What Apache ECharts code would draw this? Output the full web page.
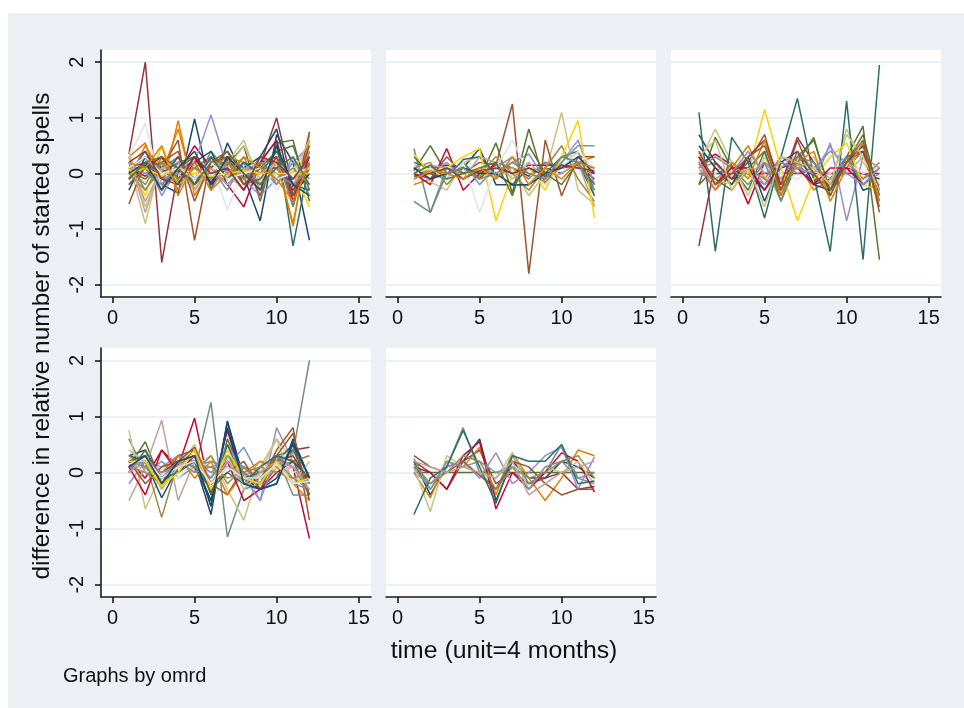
<!DOCTYPE html>
<html>
<head>
<meta charset="utf-8">
<script src="https://cdn.jsdelivr.net/npm/echarts@6/dist/echarts.min.js"></script>
<style>
  html, body { margin: 0; padding: 0; background: #ffffff; }
  #wrap { position: relative; width: 964px; height: 708px; overflow: hidden; }
  #bg { position: absolute; left: 8px; top: 13px; right: 0; bottom: 0; background: #ecf0f5; }
  #chart { position: absolute; left: 0; top: 0; width: 964px; height: 708px; }
</style>
</head>
<body>
<div id="wrap"><div id="bg"></div><div id="chart"></div></div>
<script>
// ---- data ----
const time = [1, 2, 3, 4, 5, 6, 7, 8, 9, 10, 11, 12];
const xTicks = [0, 5, 10, 15];
const yTicks = [-2, -1, 0, 1, 2];

const omrd1 = [
  [-0.1, 0.15, -0.2, -0.35, 0.98, -0.3, 0.55, -0.05, -0.85, 0.7, 0.2, -1.2],
  [0.35, 2.0, -1.6, 0.05, 0.1, -0.15, 0.25, -0.1, 0.15, 1.0, -0.25, 0.2],
  [0.05, -0.1, 0.2, -0.15, 0.1, 0.3, 0.15, 0.5, -0.5, 0.55, 0.6, -0.5],
  [0.3, 0.55, -0.3, 0.95, -0.4, 0.1, 0.3, 0.2, -0.2, 0.3, -0.95, 0.7],
  [0.2, -0.3, 0.1, 0.3, -0.2, 0.4, 0.05, -0.1, 0.3, -0.2, 0.2, -0.1],
  [0.1, -0.05, 0.2, 0.0, 0.5, 0.1, -0.2, -0.6, 0.2, 0.3, -0.4, 0.1],
  [0.05, 0.3, -0.4, 0.1, 0.2, 1.05, 0.1, -0.1, -0.4, -0.1, 0.2, 0.5],
  [0.2, -0.9, 0.3, -0.1, 0.1, -0.2, 0.2, 0.6, -0.2, 0.1, -0.3, 0.7],
  [-0.55, 0.2, 0.1, 0.6, -1.2, 0.3, -0.1, 0.2, -0.4, 0.5, -0.6, 0.75],
  [-0.2, 0.2, 0.0, 0.3, -0.1, 0.1, -0.3, 0.2, 0.1, -0.2, 0.3, -0.4],
  [0.0, 0.4, -0.2, 0.1, 0.3, -0.2, 0.3, 0.1, 0.2, 0.6, -1.3, 0.2],
  [0.1, -0.2, 0.3, -0.3, 0.2, 0.1, -0.1, 0.3, -0.3, 0.2, -0.1, 0.0],
  [0.3, -0.7, 0.2, 0.1, -0.2, 0.3, 0.0, -0.3, 0.3, 0.1, -0.2, 0.3],
  [0.1, -0.4, 0.5, -0.2, 0.0, 0.2, -0.1, 0.05, 0.0, 0.0, 0.05, -0.6],
  [0.3, 0.9, -0.3, 0.2, -0.1, 0.2, -0.65, 0.1, 0.2, -0.3, 0.1, 0.2],
  [-0.3, 0.3, 0.1, -0.2, 0.2, 0.4, -0.2, 0.1, 0.3, 0.8, -0.4, 0.0],
  [0.1, 0.2, -0.1, 0.3, -0.2, 0.1, 0.4, -0.2, 0.1, 0.1, -0.3, 0.1],
  [0.2, 0.1, -0.3, 0.2, 0.3, -0.1, 0.2, -0.2, 0.1, 0.4, 0.5, -0.3],
  [-0.1, 0.5, 0.0, 0.8, -0.3, 0.2, 0.4, -0.1, 0.0, 0.2, -0.9, 0.6],
  [0.15, 0.0, 0.2, -0.2, 0.1, -0.1, 0.2, 0.1, -0.2, 0.3, -0.6, 0.4],
  [0.0, 0.1, 0.3, -0.1, 0.3, -0.2, 0.1, -0.3, 0.2, 0.6, -0.5, 0.3],
  [0.2, 0.0, -0.2, 0.2, -0.1, 0.3, 0.0, 0.2, -0.2, 0.1, -0.1, 0.3],
  [0.4, -0.6, 0.1, 0.0, -0.3, 0.2, 0.1, 0.5, -0.1, 0.2, 0.0, 0.6],
  [-0.2, 0.1, 0.2, 0.4, -0.5, 0.2, 0.3, -0.2, -0.1, 0.3, -0.4, 0.5],
  [0.1, 0.3, -0.1, 0.0, 0.2, -0.3, 0.2, -0.1, 0.2, 0.0, -0.2, 0.1],
  [-0.1, 0.2, 0.0, 0.2, -0.2, 0.3, -0.1, 0.2, 0.0, 0.4, -0.2, -0.3],
  [0.0, -0.3, 0.2, -0.1, 0.1, 0.0, 0.2, -0.1, 0.2, -0.1, 0.1, -0.2],
  [0.2, -0.5, 0.1, 0.2, -0.3, 0.1, -0.2, 0.1, 0.0, 0.2, -0.1, 0.1],
  [0.0, 0.1, -0.05, 0.1, 0.0, -0.05, 0.0, 0.05, 0.0, 0.0, 0.0, 0.0],
  [0.1, 0.3, 0.0, 0.1, -0.1, 0.2, -0.1, 0.0, 0.1, -0.1, 0.0, 0.1],
  [0.0, 0.2, -0.3, 0.1, 0.4, -0.2, 0.3, 0.0, -0.3, 0.5, -0.2, -0.4],
  [0.2, 0.4, -0.1, -0.2, 0.3, 0.0, 0.1, -0.3, 0.3, 0.2, -0.1, 0.3],
  [-0.1, 0.2, 0.3, 0.1, -0.2, 0.2, 0.4, 0.0, -0.2, 0.1, 0.3, -0.2],
  [0.2, 0.1, 0.5, -0.4, 0.2, -0.3, 0.0, 0.3, 0.1, -0.1, -0.5, 0.2]
];

const omrd2 = [
  [0.2, 0.1, 0.15, 0.1, 0.45, -0.2, -0.2, -0.2, 0.1, 0.0, 0.2, 0.1],
  [0.0, -0.1, 0.0, 0.1, -0.1, 0.2, 0.1, -0.05, 0.2, 0.1, 0.15, -0.1],
  [0.05, 0.5, 0.0, 0.2, -0.1, 0.55, -0.35, 0.8, -0.2, 0.3, 0.4, -0.3],
  [-0.2, -0.1, 0.1, 0.0, -0.05, 0.1, 0.1, 0.0, -0.15, 0.1, 0.2, 0.3],
  [0.45, -0.7, 0.1, 0.0, 0.05, -0.05, 0.1, -0.1, 0.2, 0.1, 0.4, -0.4],
  [0.0, -0.2, 0.45, -0.3, 0.0, 0.15, 0.0, 0.15, 0.15, 0.15, 0.1, 0.0],
  [0.1, 0.0, 0.2, -0.1, 0.1, 0.0, 0.2, 0.35, -0.1, 0.2, 0.6, -0.2],
  [0.2, -0.15, -0.3, 0.2, 0.3, -0.1, 0.1, -0.4, 0.0, 1.1, -0.3, -0.55],
  [0.1, -0.1, 0.3, 0.0, 0.2, 0.15, 1.25, -1.8, 0.6, -0.4, 0.3, 0.3],
  [-0.1, 0.1, 0.0, 0.2, -0.2, 0.1, 0.3, 0.0, -0.2, 0.2, 0.5, 0.5],
  [0.3, 0.0, -0.1, 0.25, 0.3, 0.0, -0.2, 0.1, 0.0, 0.3, 0.2, -0.4],
  [0.1, 0.2, -0.2, 0.1, 0.0, 0.3, 0.0, -0.3, 0.1, 0.5, -0.1, -0.5],
  [0.0, 0.15, 0.1, -0.1, 0.3, 0.2, -0.1, 0.2, -0.1, 0.0, 0.2, -0.6],
  [0.35, 0.0, 0.1, 0.3, 0.45, -0.85, 0.0, 0.1, -0.3, 0.3, 0.95, -0.8],
  [0.0, 0.1, -0.1, 0.2, -0.7, 0.1, 0.6, 0.0, -0.2, 0.1, 0.4, 0.1],
  [0.1, -0.1, 0.0, 0.1, 0.0, 0.0, -0.2, -0.2, 0.0, 0.1, 0.3, 0.0],
  [-0.05, 0.0, 0.1, -0.1, 0.05, 0.1, 0.0, 0.1, -0.05, 0.15, 0.1, 0.05],
  [0.0, 0.15, -0.1, 0.0, 0.1, 0.2, -0.4, 0.5, 0.0, -0.2, 0.2, -0.2],
  [-0.1, 0.05, 0.0, -0.1, 0.1, -0.1, 0.3, -0.2, 0.1, -0.1, 0.2, 0.1],
  [-0.5, -0.7, 0.0, 0.1, -0.1, 0.0, 0.2, 0.0, -0.1, 0.3, 0.2, -0.3]
];

const omrd3 = [
  [0.7, 0.2, -0.1, 0.0, -0.3, 0.1, 0.2, -0.2, -0.1, 0.3, -0.3, -0.2],
  [0.0, 0.0, 0.0, 0.0, 0.0, 0.0, 0.0, 0.0, 0.0, 0.0, 0.0, 0.0],
  [-0.2, 0.65, 0.1, -0.3, 0.4, -0.5, 0.2, 0.65, -0.4, 0.3, 0.85, -1.55],
  [0.4, -0.2, 0.1, 0.5, -0.1, 0.3, 0.2, -0.3, -0.1, 0.2, 0.5, -0.3],
  [0.3, -0.2, 0.2, 0.0, -0.2, 0.1, 0.3, 0.1, -0.2, 0.1, 0.4, -0.3],
  [0.15, 0.35, 0.15, -0.55, 0.2, -0.1, 0.2, 0.1, 0.0, 0.1, 0.0, -0.1],
  [0.1, -0.3, 0.0, 0.2, -0.2, 0.3, 0.1, -0.2, 0.55, -0.85, 0.3, 0.1],
  [0.2, 0.8, 0.2, -0.4, 0.3, -0.2, 0.1, 0.3, -0.2, 0.8, 0.2, -0.2],
  [-0.2, 0.1, -0.1, 0.2, 0.7, -0.3, 0.6, -0.1, -0.2, 0.2, 0.4, -0.6],
  [0.0, -0.1, 0.1, 0.1, -0.3, 0.2, 0.0, 0.1, 0.4, 0.2, -0.1, 0.1],
  [1.1, -1.4, 0.65, 0.2, -0.8, 0.3, 1.35, -0.05, -1.4, 1.3, -1.55, 1.95],
  [0.1, 0.2, -0.2, 0.1, -0.1, -0.3, 0.2, 0.0, -0.3, 0.3, -0.1, 0.2],
  [0.2, -0.1, 0.1, 0.0, 0.2, -0.1, 0.1, 0.2, -0.1, 0.0, 0.3, 0.1],
  [0.1, -0.1, -0.2, 0.0, 1.15, 0.1, -0.85, -0.1, 0.3, 0.55, -0.2, -0.3],
  [0.1, 0.0, 0.2, -0.1, 0.1, 0.0, -0.1, 0.1, 0.0, 0.2, 0.0, 0.1],
  [0.5, 0.1, -0.2, 0.3, -0.5, 0.2, 0.4, -0.2, -0.3, 0.2, 0.5, -0.3],
  [-1.3, 0.2, -0.1, 0.3, 0.6, -0.2, 0.65, 0.2, -0.3, 0.3, 0.4, -0.5],
  [0.3, -0.1, -0.3, 0.1, 0.4, -0.4, 0.3, 0.6, -0.3, 0.2, 0.7, -0.4],
  [0.2, -0.3, 0.2, -0.1, 0.6, -0.4, 0.2, 0.4, -0.5, 0.1, 0.55, -0.5],
  [0.1, 0.3, 0.1, -0.2, 0.2, -0.5, 0.3, 0.2, -0.2, 0.3, -0.2, 0.0],
  [0.3, -0.2, 0.1, 0.1, -0.3, 0.2, 0.1, -0.2, 0.1, 0.1, -0.2, 0.1],
  [0.2, -0.2, 0.0, 0.4, 0.0, 0.2, 0.1, 0.0, 0.5, 0.0, -0.2, 0.1],
  [0.3, 0.6, -0.3, 0.1, -0.6, 0.3, 0.2, 0.1, -0.2, 0.7, 0.3, -0.3],
  [0.4, -0.2, 0.0, 0.3, 0.5, -0.3, 0.4, 0.0, -0.4, 0.2, 0.6, -0.7]
];

const omrd4 = [
  [0.3, 0.4, -0.2, 0.1, 0.2, -0.75, 0.92, -0.1, -0.3, -0.2, 0.6, -0.1],
  [0.2, 0.3, -0.1, 0.2, 0.1, -0.3, 0.2, 0.0, -0.3, 0.1, 0.4, 0.45],
  [0.1, 0.55, -0.2, 0.2, 0.3, -0.6, 0.6, -0.1, -0.2, 0.3, 0.4, -0.2],
  [0.0, 0.3, -0.1, 0.2, 0.3, -0.3, 0.2, 0.1, -0.1, 0.2, 0.1, -0.4],
  [0.6, 0.0, 0.1, 0.2, 0.0, 1.25, -1.15, -0.3, -0.2, 0.1, 0.35, 2.0],
  [0.2, -0.1, 0.4, 0.1, 0.97, -0.4, 0.75, -0.2, -0.1, 0.2, 0.1, -1.18],
  [-0.2, 0.2, 0.1, 0.3, 0.2, -0.1, 0.5, 0.0, -0.5, 0.8, 0.2, -0.2],
  [0.75, -0.65, 0.0, 0.2, 0.1, 0.3, -0.3, -0.85, 0.1, 0.6, 0.2, 0.3],
  [0.1, 0.2, -0.2, 0.3, 0.4, -0.2, -0.4, 0.1, -0.2, 0.4, 0.8, -0.85],
  [0.2, 0.0, 0.2, -0.1, 0.1, 0.2, 0.1, 0.45, -0.1, 0.2, -0.2, -0.3],
  [0.1, 0.3, -0.3, 0.2, 0.1, -0.5, 0.5, -0.2, 0.0, 0.2, 0.5, -0.4],
  [0.0, 0.2, -0.8, 0.2, 0.0, 0.3, -0.2, 0.1, 0.0, 0.1, 0.2, 0.3],
  [-0.5, 0.1, 0.93, -0.5, 0.2, 0.0, 0.1, -0.1, 0.2, 0.0, 0.1, -0.2],
  [0.25, 0.2, -0.2, 0.0, 0.3, -0.3, 0.3, -0.1, -0.2, 0.1, -0.1, -0.2],
  [0.2, 0.0, 0.1, -0.1, 0.2, 0.1, 0.0, 0.2, -0.1, 0.1, 0.0, 0.1],
  [0.3, 0.2, -0.45, 0.1, 0.2, -0.5, 0.8, -0.2, -0.3, -0.1, 0.5, -0.1],
  [0.1, 0.2, 0.0, 0.2, 0.3, -0.2, 0.1, -0.1, 0.0, 0.2, 0.3, -0.2],
  [0.0, 0.4, -0.1, 0.1, 0.4, -0.4, 0.3, -0.2, -0.1, 0.3, 0.2, -0.4],
  [0.2, 0.1, 0.0, 0.3, -0.1, 0.2, -0.4, 0.0, 0.2, 0.1, -0.2, -0.5],
  [0.3, 0.1, -0.2, 0.2, 0.1, -0.1, 0.3, 0.0, -0.2, 0.3, -0.4, -0.4],
  [0.1, -0.4, 0.4, 0.0, 0.3, -0.2, 0.2, -0.5, -0.3, 0.0, 0.2, -0.1],
  [0.0, 0.2, -0.1, 0.2, 0.0, 0.1, 0.2, -0.1, -0.5, 0.3, 0.1, -0.2],
  [0.4, 0.2, -0.3, 0.1, 0.5, -0.2, 0.3, -0.3, 0.0, 0.6, -0.2, 0.2],
  [0.2, -0.2, 0.1, 0.2, 0.45, -0.2, 0.0, 0.2, -0.3, 0.3, 0.7, -0.5],
  [0.1, 0.2, 0.0, 0.1, 0.2, 0.0, 0.3, 0.1, -0.2, 0.2, -0.1, -0.3],
  [0.2, 0.3, -0.1, 0.0, 0.2, -0.3, 0.0, -0.2, 0.1, 0.3, 0.2, -0.1],
  [0.1, 0.0, -0.2, 0.2, 0.1, 0.1, -0.1, 0.0, 0.1, 0.0, -0.1, 0.0],
  [0.0, 0.3, -0.1, 0.1, 0.3, -0.2, 0.2, -0.2, 0.0, 0.2, 0.1, -0.3],
  [0.2, 0.2, -0.25, 0.0, 0.4, -0.3, 0.4, -0.1, -0.2, 0.2, -0.2, -0.1],
  [0.15, 0.25, -0.1, 0.1, 0.2, -0.2, 0.1, -0.1, -0.1, 0.15, -0.2, -0.15],
  [0.1, 0.3, -0.2, 0.2, 0.3, -0.6, 0.9, -0.2, -0.3, -0.2, 0.55, -0.1]
];

const omrd5 = [
  [0.2, -0.4, 0.1, 0.2, 0.6, -0.5, 0.2, -0.1, -0.1, 0.2, 0.1, -0.1],
  [0.2, 0.0, -0.3, 0.2, 0.4, -0.2, 0.0, -0.2, -0.1, 0.0, -0.3, -0.25],
  [0.0, 0.0, 0.0, 0.0, 0.0, 0.0, 0.0, 0.0, 0.0, 0.0, 0.0, 0.0],
  [0.0, -0.45, 0.2, 0.1, 0.45, -0.4, 0.35, -0.1, -0.5, -0.1, 0.4, 0.3],
  [0.25, -0.3, 0.1, 0.8, 0.0, -0.3, 0.3, -0.2, 0.0, 0.5, -0.1, -0.2],
  [0.1, 0.0, -0.3, 0.3, 0.55, -0.65, 0.0, -0.3, 0.0, 0.35, 0.2, -0.35],
  [0.0, -0.2, 0.1, 0.2, -0.1, 0.35, -0.2, 0.0, 0.3, 0.45, -0.3, 0.28],
  [0.1, -0.7, 0.3, 0.1, 0.0, -0.1, 0.35, -0.3, 0.1, 0.0, 0.2, -0.2],
  [0.3, 0.1, 0.0, 0.2, -0.05, -0.3, 0.2, 0.1, -0.2, -0.4, -0.3, -0.3],
  [0.1, -0.3, 0.2, 0.1, 0.2, 0.0, 0.1, -0.3, 0.1, 0.2, -0.1, 0.0],
  [-0.75, -0.1, 0.1, 0.75, 0.1, -0.55, 0.3, 0.2, 0.2, 0.5, -0.2, -0.15],
  [0.15, -0.2, 0.0, 0.3, 0.2, -0.3, 0.1, -0.1, 0.0, 0.2, 0.3, -0.1],
  [0.2, 0.1, 0.0, 0.1, 0.0, -0.1, 0.2, -0.4, -0.2, 0.0, 0.1, 0.2]
];

const panels = [omrd1, omrd2, omrd3, omrd4, omrd5];

// ---- styling (Stata s2color) ----
const palette = ['#1a476f', '#90353b', '#55752f', '#e37e00', '#6e8e84', '#c10534', '#938dd2',
  '#cac27e', '#a0522d', '#7b92a8', '#2d6d66', '#9c8847', '#bfa19c', '#ffd200', '#d9e6eb'];
const FONT = "'Liberation Sans', Arial, sans-serif";
const AX = '#1a1a1a';
const GRIDC = '#e6ecf3';

const layout = [
  { left: 101, top: 50, width: 270, height: 247, ylab: true },
  { left: 386, top: 50, width: 270, height: 247, ylab: false },
  { left: 671, top: 50, width: 270, height: 247, ylab: false },
  { left: 101, top: 348, width: 270, height: 249, ylab: true },
  { left: 386, top: 348, width: 270, height: 249, ylab: false }
];

const grid = [], xAxis = [], yAxis = [], series = [];
layout.forEach((g, p) => {
  grid.push({ left: g.left, top: g.top, width: g.width, height: g.height,
    show: true, backgroundColor: '#ffffff', borderWidth: 0,
    containLabel: false, outerBoundsMode: 'none' });
  xAxis.push({
    type: 'value', gridIndex: p, min: -0.7, max: 15.75,
    axisLine: { show: true, onZero: false, lineStyle: { color: AX, width: 1.6 } },
    axisTick: { show: true, customValues: xTicks, length: 6, lineStyle: { color: AX, width: 1.6 } },
    axisLabel: { show: true, customValues: xTicks, fontSize: 20, fontFamily: FONT, color: '#111', margin: 11 },
    splitLine: { show: false }
  });
  yAxis.push({
    type: 'value', gridIndex: p, min: -2.22, max: 2.22,
    axisLine: { show: g.ylab, onZero: false, lineStyle: { color: AX, width: 1.6 } },
    axisTick: { show: g.ylab, customValues: yTicks, length: 6, lineStyle: { color: AX, width: 1.6 } },
    axisLabel: { show: g.ylab, customValues: yTicks, rotate: 90, fontSize: 20, fontFamily: FONT, color: '#111', margin: 14 },
    splitLine: { show: true, lineStyle: { color: GRIDC, width: 1.5 } }
  });
  panels[p].forEach((vals, i) => {
    series.push({
      type: 'line', xAxisIndex: p, yAxisIndex: p,
      data: time.map((t, k) => [t, vals[k]]),
      symbol: 'none', showSymbol: false, silent: true,
      lineStyle: { color: palette[i % palette.length], width: 1.5 },
      itemStyle: { color: palette[i % palette.length] }
    });
  });
});

const chart = echarts.init(document.getElementById('chart'), null, { renderer: 'canvas' });
chart.setOption({
  animation: false,
  backgroundColor: 'transparent',
  grid, xAxis, yAxis, series,
  graphic: [
    { type: 'text', x: 42, y: 336, rotation: Math.PI / 2,
      style: { text: 'difference in relative number of started spells', fontSize: 24.5, fontFamily: FONT,
        fill: '#111', align: 'center', verticalAlign: 'middle', textAlign: 'center', textVerticalAlign: 'middle' } },
    { type: 'text', x: 504, y: 651,
      style: { text: 'time (unit=4 months)', fontSize: 24.8, fontFamily: FONT,
        fill: '#111', align: 'center', verticalAlign: 'middle', textAlign: 'center', textVerticalAlign: 'middle' } },
    { type: 'text', x: 63, y: 676,
      style: { text: 'Graphs by omrd', fontSize: 20, fontFamily: FONT,
        fill: '#111', align: 'left', verticalAlign: 'middle', textAlign: 'left', textVerticalAlign: 'middle' } }
  ]
});
</script>
</body>
</html>
